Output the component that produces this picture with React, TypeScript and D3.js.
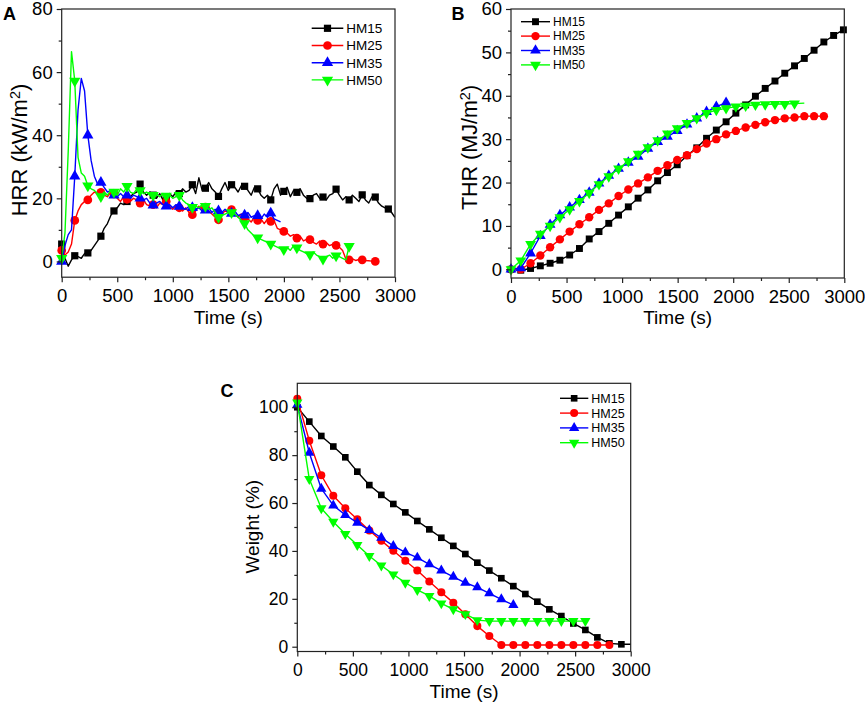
import { useEffect, useRef } from 'react';
import * as d3 from 'd3';

const FONT = '"Liberation Sans", Arial, Helvetica, sans-serif';
const AXIS = '#222';

const NAMES = ['HM15', 'HM25', 'HM35', 'HM50'];
const COLORS = ['#000000', '#ff0000', '#0000ff', '#00ff00'];
const SHAPES = ['square', 'circle', 'up', 'down'];

const X_TICKS = [0, 500, 1000, 1500, 2000, 2500, 3000];
const X_MINOR = [250, 750, 1250, 1750, 2250, 2750];

// HRR (kW/m2), one reading every 29.4 s, symbol on every 4th reading
const HRR_STEP = 29.4;
const HRR_HM15 = [
  5.5, 1, -1.5, 0.5, 1.8, 1.5, 1, 2.5, 2.7, 3.5, 5, 6.5, 8, 10.5, 12, 14.5,
  16, 17, 18.5, 18, 19, 20.5, 21.5, 22, 24.5, 22, 21, 22, 21, 20, 21.5, 19.5,
  20.5, 21.5, 20.5, 22, 21.5, 23, 22, 22.5, 24.3, 21.5, 26.5, 22.5, 23.2, 25, 23, 22,
  20.6, 23, 25, 22.5, 24.3, 23.5, 22, 24, 23.8, 22.5, 21, 23.5, 23, 21, 20, 21,
  19.5, 23, 24.5, 21, 22.2, 23.5, 20.5, 22.5, 21.9, 23, 21, 20, 19.9, 21, 21.5, 20,
  20.4, 19.5, 21, 21.5, 22.9, 21, 19.5, 20.5, 19.5, 21, 20, 19, 21.1, 19.5, 18.5, 20.5,
  20.4, 18.5, 17.5, 17, 16.6, 15.5, 14,
];
const HRR_HM25 = [
  3.5, 2, 3, 5.5, 13, 16, 18, 19, 19.5, 21, 22, 21.5, 21.9, 21, 20.5, 22,
  21.4, 20, 19, 20.5, 19.7, 19, 20, 19.5, 18.5, 19.5, 18, 17.5, 18, 17, 18.5, 18,
  19, 17.5, 16.5, 17.5, 17, 16, 17, 15.5, 14.8, 16, 17.5, 16.5, 17.2, 16, 15, 14,
  13.2, 15, 16, 15.5, 16.4, 15, 14, 15, 14, 13.5, 12.5, 14, 13, 13.5, 12, 13.5,
  12.7, 13, 10.5, 10, 9.5, 9, 8, 8.5, 7.4, 8, 6.5, 7, 6.9, 6, 5.5, 6.5,
  5.5, 6, 5, 5.5, 5.1, 4.5, 3.5, 0.8, 0.5, 0.8, 0.3, 0.6, 0.5, 0.3, 0.2, 0.1,
  0, 0,
];
const HRR_HM35 = [
  0, 5, 8.5, 10, 27, 48, 58, 54, 40, 32, 27, 24.5, 25, 23.5, 22, 22.5,
  21, 20.5, 21.5, 20.5, 21, 20, 21, 20.5, 20, 19.5, 20, 18.5, 17.8, 18.5, 19, 18,
  17.5, 18, 17, 18, 17.4, 17, 16.5, 17.5, 17, 16.5, 17, 16, 16.2, 17, 15.5, 16.5,
  16, 15.5, 16.5, 15.5, 15.2, 16, 14.5, 15, 14.6, 15.5, 14, 14.5, 14.5, 13.5, 15, 14,
  15.3, 13.5, 13, 12.5,
];
const HRR_HM50 = [
  1, 9, 35, 66.5, 57.2, 33, 28, 27, 24, 23, 22.5, 21.5, 20.6, 22, 21, 22.5,
  22, 21, 23, 22, 23.8, 22, 21.5, 23, 22.5, 21.5, 22, 21, 21, 21.5, 20.5, 21.5,
  20.7, 21, 20, 20.5, 21, 19.5, 18.5, 18, 17.2, 17.5, 17, 18, 17.5, 16.5, 17, 15.5,
  14, 14.5, 15, 15.5, 15.5, 15, 14, 13, 12, 10, 9, 8, 7.5, 7, 6.5, 6,
  5.5, 5, 4.5, 4, 3.8, 4.5, 3.5, 5, 4.3, 3.5, 3, 2.5, 2.2, 3, 2, 1.5,
  0.8, 1.5, 2, 1, 1.8, 1.5, 1, 0.5, 4.8, 4.8,
];

// THR (MJ/m2), one reading every 88 s
const THR_STEP = 88;
const THR_HM15 = [
  0, -0.2, 0.2, 0.8, 1.4, 2.1, 3.3, 4.8, 7.0, 8.7, 10.6, 12.5, 14.4, 16.4, 18.3, 20.4,
  22.3, 24.1, 26.2, 28.0, 30.2, 32.1, 34.0, 36.0, 37.9, 39.9, 41.7, 43.4, 45.2, 46.9, 48.6, 50.5,
  52.4, 53.9, 55.2,
];
const THR_HM25 = [
  0, 0, 1.4, 3.2, 5.1, 6.9, 8.7, 10.4, 12.0, 13.7, 15.2, 16.9, 18.4, 19.8, 21.2, 22.7,
  24.0, 25.2, 26.3, 27.7, 29.0, 30.0, 31.1, 31.9, 32.7, 33.3, 33.9, 34.4, 34.8, 35.0, 35.3, 35.3,
  35.3,
];
const THR_HM35 = [
  0, 0.3, 3.7, 7.7, 10.3, 12.5, 14.3, 16.0, 17.7, 19.8, 21.6, 23.2, 24.6, 26.0, 27.8, 29.4,
  30.6, 31.9, 33.4, 34.8, 36.3, 37.5, 38.4,
];
const THR_HM50 = [
  0, 2.0, 5.8, 8.2, 10.0, 12.0, 13.8, 15.7, 17.6, 19.6, 21.4, 23.2, 24.9, 26.6, 28.1, 29.7,
  31.3, 32.5, 33.7, 34.8, 36.0, 36.7, 37.1, 37.5, 37.7, 37.9, 38.0, 38.1, 38.1, 38.2, 38.3,
];

// Residual weight (%), one reading every 108 s
const MASS_STEP = 108;
const MASS_HM15 = [
  100, 94, 88, 83.6, 79.1, 73.1, 67.5, 63.4, 59.6, 56.1, 52.5, 49, 45.5, 42.1, 38.7, 35.1,
  31.8, 28.6, 25.3, 22, 18.8, 15.6, 12.8, 9.7, 7, 3.9, 1.4, 1.0, 1.0,
];
const MASS_HM25 = [
  103.5, 86, 71.6, 63, 57.8, 53.2, 48.5, 44.3, 40.1, 35.9, 31.8, 27.2, 22.7, 18.4, 13.6, 8.6,
  4.5, 0.7, 0.7, 0.7, 0.7, 0.7, 0.7, 0.7, 0.7, 0.7, 0.7,
];
const MASS_HM35 = [
  101, 81, 66, 59, 55, 51.8, 48.7, 45.5, 42.1, 39.4, 37.2, 34.4, 31.8, 29.2, 26.7, 24.8,
  22.3, 19.8, 17.4,
];
const MASS_HM50 = [
  102, 70, 57.8, 52.2, 47.1, 42.5, 37.9, 33.9, 30.2, 26.7, 23.7, 21.2, 18.1, 15.6, 13.6, 11.1,
  10.7, 10.7, 10.7, 10.7, 10.7, 10.7, 10.7, 10.7, 10.7,
];

type Series = { values: number[]; step: number; every: number; marked: number };

type PanelProps = {
  id: string;
  left: number;
  top: number;
  width: number;
  height: number;
  yDomain: [number, number];
  yTicks: number[];
  yMinor: number[];
  series: Series[];
  markSize: number;
  tickFont: number;
  legend: { x: number; y: number; dy: number; len: number; font: number };
};

const symbolPath = (shape: string, size: number) => {
  const type =
    shape === 'square' ? d3.symbolSquare : shape === 'circle' ? d3.symbolCircle : d3.symbolTriangle;
  const s = shape === 'circle' ? size * 1.15 : shape === 'square' ? size : size * 1.05;
  return d3.symbol().type(type).size(s)() || '';
};

const Marker = ({ shape, color, size, x, y }: any) => (
  <path
    d={symbolPath(shape, size)}
    fill={color}
    stroke="none"
    transform={`translate(${x},${y})${shape === 'down' ? ' rotate(180)' : ''}`}
  />
);

const Panel = (p: PanelProps) => {
  const axesRef = useRef(null);
  const xScale = d3.scaleLinear().domain([0, 3000]).range([0, p.width]);
  const yScale = d3.scaleLinear().domain(p.yDomain).range([p.height, 0]);

  // axes drawn by d3 into the ref group
  useEffect(() => {
    const g = d3.select(axesRef.current);
    g.selectAll('*').remove();
    const style = (sel: any) => {
      sel.select('.domain').remove();
      sel.selectAll('line').attr('stroke', AXIS).attr('stroke-width', 1.2);
      sel
        .selectAll('text')
        .attr('font-size', p.tickFont)
        .attr('font-family', FONT)
        .attr('fill', '#000');
    };
    g.append('g')
      .attr('transform', `translate(0,${p.height})`)
      .call(d3.axisBottom(xScale).tickValues(X_MINOR).tickSize(3).tickFormat(() => ''))
      .call(style);
    g.append('g')
      .attr('transform', `translate(0,${p.height})`)
      .call(d3.axisBottom(xScale).tickValues(X_TICKS).tickSize(5).tickPadding(7).tickFormat(d3.format('d')))
      .call(style);
    g.append('g')
      .call(d3.axisLeft(yScale).tickValues(p.yMinor).tickSize(3).tickFormat(() => ''))
      .call(style);
    g.append('g')
      .call(d3.axisLeft(yScale).tickValues(p.yTicks).tickSize(5).tickPadding(4).tickFormat(d3.format('d')))
      .call(style);
  }, [p.width, p.height]);

  return (
    <g transform={`translate(${p.left},${p.top})`}>
      <defs>
        <clipPath id={`clip-${p.id}`}>
          <rect x={0} y={0} width={p.width} height={p.height} />
        </clipPath>
      </defs>
      {p.series.map((s, si) => {
        const pts = s.values.map((v, i) => [xScale(i * s.step), yScale(v)] as [number, number]);
        const path = d3.line()(pts) || '';
        return (
          <g key={si}>
            <path
              d={path}
              fill="none"
              stroke={COLORS[si]}
              strokeWidth={1.4}
              strokeLinejoin="round"
              clipPath={`url(#clip-${p.id})`}
            />
            {pts
              .filter((_, i) => i % s.every === 0 && i < s.marked)
              .map(([x, y], i) => (
                <Marker key={i} shape={SHAPES[si]} color={COLORS[si]} size={p.markSize} x={x} y={y} />
              ))}
          </g>
        );
      })}
      <rect x={0} y={0} width={p.width} height={p.height} fill="none" stroke={AXIS} strokeWidth={1.2} />
      <g ref={axesRef} />
      <g transform={`translate(${p.legend.x - p.left},${p.legend.y - p.top})`}>
        {NAMES.map((n, i) => (
          <g key={n} transform={`translate(0,${i * p.legend.dy})`}>
            <line x1={0} x2={p.legend.len} y1={0} y2={0} stroke={COLORS[i]} strokeWidth={1.4} />
            <Marker shape={SHAPES[i]} color={COLORS[i]} size={p.markSize} x={p.legend.len / 2} y={0} />
            <text
              x={p.legend.len + 3}
              y={p.legend.font * 0.36}
              fontSize={p.legend.font}
              fontFamily={FONT}
              fill="#000"
            >
              {n}
            </text>
          </g>
        ))}
      </g>
    </g>
  );
};

const YTitle = ({ x, y, size, children }: any) => (
  <text
    transform={`translate(${x},${y}) rotate(-90)`}
    textAnchor="middle"
    fontSize={size}
    fontFamily={FONT}
    fill="#000"
  >
    {children}
  </text>
);

const Label = ({ x, y, text }: any) => (
  <text x={x} y={y} fontSize={18} fontWeight="bold" fontFamily={FONT} fill="#000">
    {text}
  </text>
);

const XTitle = ({ x, y, size }: any) => (
  <text x={x} y={y} textAnchor="middle" fontSize={size} fontFamily={FONT} fill="#000">
    Time (s)
  </text>
);

export default function App() {
  const hrr = [HRR_HM15, HRR_HM25, HRR_HM35, HRR_HM50];
  const thr = [THR_HM15, THR_HM25, THR_HM35, THR_HM50];
  const mass = [MASS_HM15, MASS_HM25, MASS_HM35, MASS_HM50];
  return (
    <div style={{ position: 'absolute', left: 0, top: 0 }}>
      <svg width={865} height={704} style={{ display: 'block', background: '#fff' }}>
        <Panel
          id="a"
          left={61.7}
          top={9}
          width={333.3}
          height={268.2}
          yDomain={[-5, 80]}
          yTicks={[0, 20, 40, 60, 80]}
          yMinor={[10, 30, 50, 70]}
          series={hrr.map((v) => ({ values: v, step: HRR_STEP, every: 4, marked: v.length }))}
          markSize={52}
          tickFont={18.5}
          legend={{ x: 311.7, y: 28.3, dy: 17.2, len: 31.6, font: 13.5 }}
        />
        <Panel
          id="b"
          left={511}
          top={9}
          width={333.3}
          height={269}
          yDomain={[-2, 60]}
          yTicks={[0, 10, 20, 30, 40, 50, 60]}
          yMinor={[5, 15, 25, 35, 45, 55]}
          series={thr.map((v, i) => ({
            values: v,
            step: THR_STEP,
            every: 1,
            marked: i === 3 ? v.length - 1 : v.length,
          }))}
          markSize={48}
          tickFont={18.5}
          legend={{ x: 521, y: 21.7, dy: 14.4, len: 29, font: 12 }}
        />
        <Panel
          id="c"
          left={297.3}
          top={383.3}
          width={333.4}
          height={268.2}
          yDomain={[-2, 110]}
          yTicks={[0, 20, 40, 60, 80, 100]}
          yMinor={[10, 30, 50, 70, 90]}
          series={mass.map((v, i) => ({
            values: v,
            step: MASS_STEP,
            every: 1,
            marked: i === 0 ? v.length - 1 : v.length,
          }))}
          markSize={44}
          tickFont={17.5}
          legend={{ x: 560, y: 398.3, dy: 14.8, len: 28.3, font: 12.5 }}
        />

        <YTitle x={27} y={150} size={22}>
          HRR (kW/m
          <tspan dy={-7} fontSize={14.5}>
            2
          </tspan>
          <tspan dy={7}>)</tspan>
        </YTitle>
        <YTitle x={476.7} y={147.5} size={21.5}>
          THR (MJ/m
          <tspan dy={-7} fontSize={14.5}>
            2
          </tspan>
          <tspan dy={7}>)</tspan>
        </YTitle>
        <YTitle x={258.5} y={526.7} size={19}>
          Weight (%)
        </YTitle>

        <XTitle x={228.3} y={324} size={19} />
        <XTitle x={677.7} y={324} size={19} />
        <XTitle x={464} y={698} size={19} />

        <Label x={3} y={20} text="A" />
        <Label x={451.5} y={20} text="B" />
        <Label x={220.5} y={396.7} text="C" />
      </svg>
    </div>
  );
}
